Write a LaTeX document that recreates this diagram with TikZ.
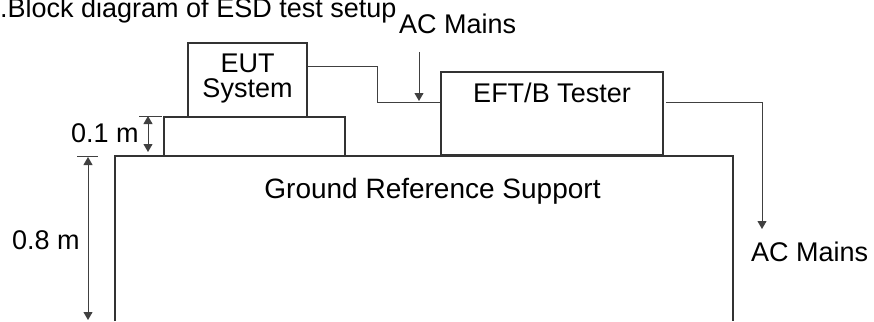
\documentclass[tikz,border=0pt]{standalone}
\usepackage{fontspec}
\setmainfont{Liberation Sans}
\usetikzlibrary{arrows.meta}
\begin{document}
\begin{tikzpicture}[x=1pt,y=-1pt,
  lbl/.style={inner sep=0pt,font=\fontsize{27}{25}\selectfont},
  boxline/.style={draw=black!80,line width=1.2pt},
  wire/.style={draw=black!75,line width=0.9pt},
  arr/.style={-{Triangle[length=8pt,width=9pt]}},
  dim/.style={{Triangle[length=8pt,width=9pt]}-{Triangle[length=8pt,width=9pt]}}]
\useasboundingbox (0,0) rectangle (874,321);
% title
\node[lbl,anchor=base west] (title) at (0,18) {.Block diagram of ESD test setup};
% boxes
\node[boxline,minimum width=119pt,minimum height=74pt,inner sep=0pt] (eut) at (247.5,80) {};
\node[lbl,align=center,anchor=base] (euttxt) at (247.5,97) {EUT\\System};
\node[boxline,minimum width=222pt,minimum height=83pt,inner sep=0pt] (eft) at (552,113.5) {};
\node[lbl,anchor=base] (efttxt) at (552,102) {EFT/B Tester};
% platform and ground support
\draw[boxline] (164,155) -- (164,117) -- (345,117) -- (345,155);
\draw[boxline] (115,321) -- (115,156) -- (733,156) -- (733,321);
\node[lbl,anchor=base,font=\fontsize{28}{28}\selectfont] (grs) at (432.5,198) {Ground Reference Support};
% texts
\node[lbl,anchor=base west] (acm1) at (399,34) {AC Mains};
\node[lbl,anchor=base west] (acm2) at (751,261) {AC Mains};
\node[lbl,anchor=base west] (d1txt) at (71,142) {0.1 m};
\node[lbl,anchor=base west] (d2txt) at (12,249) {0.8 m};
% coordinates
\coordinate (w1a) at (377,66);
\coordinate (w1b) at (377,102);
\coordinate (w2a) at (666,102);
\coordinate (w2b) at (762,102);
\coordinate (w2c) at (762,229);
\coordinate (a1top) at (419,52);
\coordinate (a1tip) at (419,101);
% connectors
\draw[wire] (eut.east |- w1a) -- (w1a) -- (w1b) -- (eft.west |- w1b);
\draw[wire,arr] (a1top) -- (a1tip);
\draw[wire,arr] (w2a) -- (w2b) -- (w2c);
% dimensions
\coordinate (t1l) at (139,116);
\coordinate (t1r) at (162,116);
\coordinate (d1a) at (148,116);
\coordinate (d1b) at (148,152);
\draw[wire] (t1l) -- (t1r);
\draw[wire,dim] (d1a) -- (d1b);
\coordinate (t2l) at (77,156);
\coordinate (t2r) at (98,156);
\coordinate (d2a) at (88,157);
\coordinate (d2b) at (88,320);
\draw[wire] (t2l) -- (t2r);
\draw[wire,dim] (d2a) -- (d2b);
\end{tikzpicture}
\end{document}
